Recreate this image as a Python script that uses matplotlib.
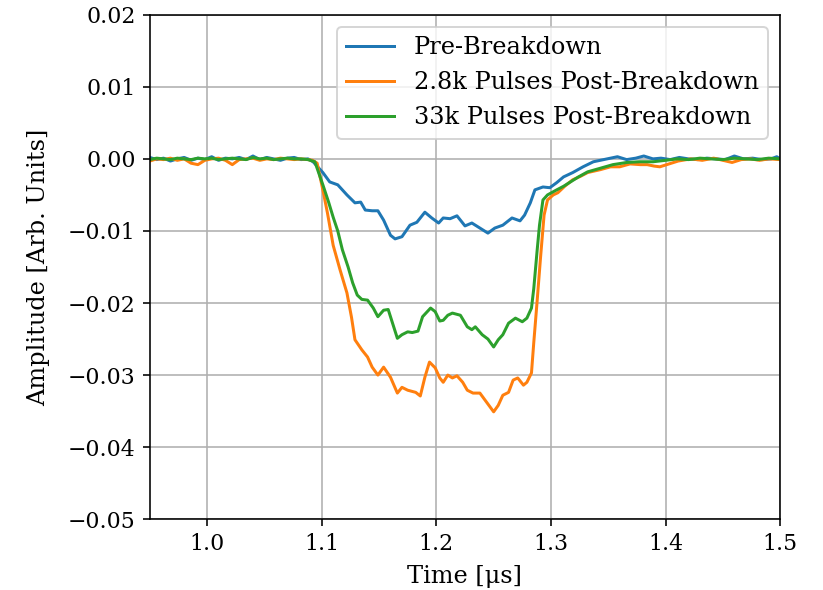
import numpy as np
import matplotlib.pyplot as plt

plt.rcParams["font.family"] = "DejaVu Serif"
plt.rcParams["font.size"] = 12
plt.rcParams["xtick.labelsize"] = 11
plt.rcParams["ytick.labelsize"] = 11

# Pulse amplitude traces [arb. units] vs time [us]
flat_t = [0.950, 0.956, 0.962, 0.968, 0.974, 0.980, 0.986, 0.992, 0.998, 1.004,
          1.010, 1.016, 1.022, 1.028, 1.034, 1.040, 1.046, 1.052, 1.058, 1.064,
          1.070, 1.076, 1.082, 1.088]

pre_t = flat_t + [1.0925, 1.097, 1.101, 1.107, 1.114, 1.122, 1.129, 1.134, 1.138,
                  1.144, 1.149, 1.154, 1.160, 1.164, 1.170, 1.177, 1.183, 1.190,
                  1.196, 1.202, 1.206, 1.212, 1.218, 1.225, 1.231, 1.238, 1.245,
                  1.251, 1.258, 1.266, 1.273, 1.277, 1.282, 1.286, 1.293, 1.299,
                  1.305, 1.311, 1.319, 1.328, 1.337, 1.343, 1.349, 1.358, 1.366,
                  1.374, 1.381, 1.389, 1.396, 1.404, 1.412, 1.420, 1.428, 1.436,
                  1.444, 1.452, 1.460, 1.468, 1.476, 1.484, 1.492, 1.497, 1.500]
pre_a = [0.0002, -0.0001, 0.0001, -0.0003, 0.0000, 0.0002, -0.0002, 0.0001,
         -0.0001, 0.0003, -0.0002, 0.0001, 0.0000, 0.0002, -0.0001, 0.0004,
         -0.0001, 0.0002, 0.0000, -0.0002, 0.0001, 0.0002, -0.0001, 0.0000,
         -0.0004, -0.0012, -0.0019, -0.0032, -0.0036, -0.0050, -0.0061, -0.0060,
         -0.0071, -0.0072, -0.0072, -0.0085, -0.0106, -0.0111, -0.0108, -0.0092,
         -0.0088, -0.0074, -0.0082, -0.0089, -0.0082, -0.0083, -0.0079, -0.0093,
         -0.0089, -0.0096, -0.0103, -0.0096, -0.0092, -0.0082, -0.0086, -0.0078,
         -0.0061, -0.0043, -0.0039, -0.0040, -0.0033, -0.0025, -0.0019, -0.0011,
         -0.0004, -0.0002, 0.0000, 0.0003, -0.0001, 0.0001, 0.0004, 0.0000,
         0.0001, -0.0001, 0.0002, 0.0000, -0.0001, 0.0001, 0.0000, -0.0001,
         0.0004, 0.0000, 0.0001, -0.0001, 0.0000, 0.0003, 0.0000]

k28_t = flat_t + [1.092, 1.096, 1.101, 1.105, 1.110, 1.116, 1.122, 1.126, 1.129,
                  1.135, 1.140, 1.144, 1.149, 1.154, 1.160, 1.166, 1.170, 1.175,
                  1.182, 1.186, 1.190, 1.194, 1.199, 1.203, 1.206, 1.210, 1.214,
                  1.218, 1.223, 1.227, 1.232, 1.238, 1.244, 1.250, 1.254, 1.258,
                  1.263, 1.267, 1.271, 1.276, 1.279, 1.283, 1.285, 1.288, 1.291,
                  1.294, 1.297, 1.302, 1.306, 1.312, 1.319, 1.326, 1.332, 1.343,
                  1.352, 1.360, 1.369, 1.378, 1.384, 1.390, 1.395, 1.401, 1.411,
                  1.422, 1.432, 1.442, 1.450, 1.458, 1.466, 1.474, 1.482, 1.490,
                  1.500]
k28_a = [-0.0003, 0.0000, -0.0001, 0.0001, -0.0002, 0.0000, -0.0006, -0.0008,
         -0.0002, 0.0000, 0.0001, -0.0002, -0.0008, -0.0001, 0.0000, 0.0001,
         -0.0002, 0.0000, -0.0001, 0.0001, 0.0000, -0.0001, 0.0000, -0.0001,
         -0.0002, -0.0006, -0.0043, -0.0075, -0.0120, -0.0154, -0.0186, -0.0220,
         -0.0251, -0.0265, -0.0275, -0.0289, -0.0300, -0.0289, -0.0303, -0.0325,
         -0.0317, -0.0321, -0.0324, -0.0329, -0.0303, -0.0282, -0.0290, -0.0304,
         -0.0310, -0.0300, -0.0304, -0.0301, -0.0310, -0.0321, -0.0325, -0.0325,
         -0.0338, -0.0351, -0.0342, -0.0328, -0.0324, -0.0307, -0.0304, -0.0314,
         -0.0310, -0.0297, -0.0255, -0.0196, -0.0135, -0.0078, -0.0057, -0.0050,
         -0.0047, -0.0038, -0.0029, -0.0024, -0.0019, -0.0015, -0.0011, -0.0011,
         -0.0007, -0.0008, -0.0008, -0.0010, -0.0011, -0.0008, -0.0003, 0.0000,
         -0.0002, 0.0001, -0.0002, -0.0005, -0.0001, 0.0000, -0.0002, 0.0000,
         -0.0001]

k33_t = flat_t + [1.094, 1.101, 1.106, 1.110, 1.114, 1.118, 1.123, 1.127, 1.131,
                  1.135, 1.140, 1.145, 1.149, 1.154, 1.158, 1.161, 1.166, 1.170,
                  1.175, 1.179, 1.184, 1.188, 1.195, 1.199, 1.203, 1.206, 1.210,
                  1.214, 1.221, 1.227, 1.231, 1.234, 1.240, 1.245, 1.250, 1.254,
                  1.258, 1.263, 1.269, 1.275, 1.279, 1.283, 1.285, 1.288, 1.290,
                  1.293, 1.297, 1.305, 1.311, 1.317, 1.324, 1.332, 1.343, 1.354,
                  1.366, 1.377, 1.389, 1.400, 1.410, 1.420, 1.430, 1.440, 1.450,
                  1.460, 1.470, 1.480, 1.490, 1.500]
k33_a = [-0.0001, 0.0001, 0.0000, -0.0001, 0.0001, 0.0000, -0.0001, 0.0001,
         0.0000, 0.0001, -0.0001, 0.0000, 0.0001, 0.0000, -0.0001, 0.0002,
         0.0000, 0.0001, -0.0001, 0.0000, 0.0001, 0.0000, 0.0000, -0.0001,
         -0.0004, -0.0036, -0.0060, -0.0081, -0.0100, -0.0126, -0.0150, -0.0172,
         -0.0189, -0.0195, -0.0196, -0.0207, -0.0219, -0.0210, -0.0209, -0.0224,
         -0.0249, -0.0244, -0.0240, -0.0241, -0.0239, -0.0219, -0.0207, -0.0212,
         -0.0225, -0.0224, -0.0217, -0.0214, -0.0217, -0.0233, -0.0237, -0.0233,
         -0.0244, -0.0250, -0.0261, -0.0251, -0.0244, -0.0228, -0.0221, -0.0226,
         -0.0221, -0.0207, -0.0180, -0.0126, -0.0092, -0.0057, -0.0050, -0.0043,
         -0.0038, -0.0032, -0.0025, -0.0018, -0.0013, -0.0008, -0.0005, -0.0004,
         -0.0004, -0.0002, 0.0000, -0.0001, 0.0001, 0.0000, -0.0001, 0.0001,
         0.0000, -0.0001, 0.0001, 0.0000]

dpi = 144
fig = plt.figure(figsize=(823 / dpi, 590 / dpi), dpi=dpi)
ax = fig.add_axes([0.182, 0.120, 0.766, 0.855])

ax.plot(pre_t, pre_a, color="C0", label="Pre-Breakdown")
ax.plot(k28_t, k28_a, color="C1", label="2.8k Pulses Post-Breakdown")
ax.plot(k33_t, k33_a, color="C2", label="33k Pulses Post-Breakdown")

ax.set_xlim(0.95, 1.5)
ax.set_ylim(-0.05, 0.02)
ax.set_yticks(np.arange(-0.05, 0.021, 0.01))
ax.set_xlabel("Time [μs]", labelpad=5)
ax.set_ylabel("Amplitude [Arb. Units]", labelpad=9)
ax.grid(True)
ax.legend(loc="upper right")

fig.savefig("out.png", dpi=dpi)
